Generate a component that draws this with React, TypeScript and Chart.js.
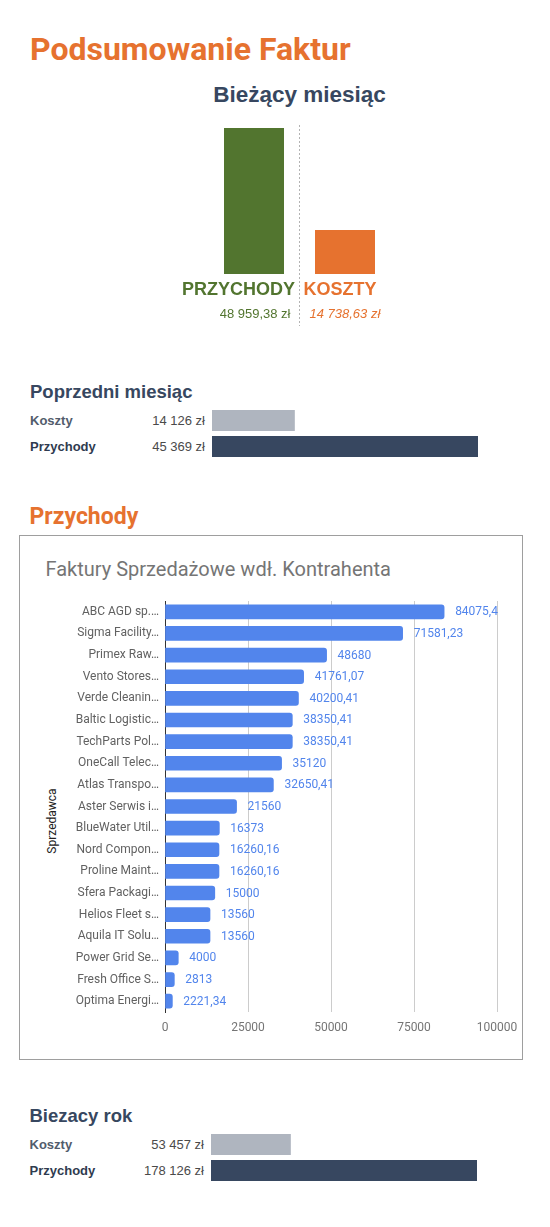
import React, { useEffect, useRef } from 'react';
import { Chart, registerables } from 'chart.js';

Chart.register(...registerables);

// ---------- data ----------
const currentLabels = ['PRZYCHODY', 'KOSZTY'];
const currentValues = [48959.38, 14738.63];

const prevLabels = ['Koszty', 'Przychody'];
const prevValues = [14126, 45369];

const yearLabels = ['Koszty', 'Przychody'];
const yearValues = [53457, 178126];

const vendorLabels = [
  'ABC AGD sp.…',
  'Sigma Facility…',
  'Primex Raw…',
  'Vento Stores…',
  'Verde Cleanin…',
  'Baltic Logistic…',
  'TechParts Pol…',
  'OneCall Telec…',
  'Atlas Transpo…',
  'Aster Serwis i…',
  'BlueWater Util…',
  'Nord Compon…',
  'Proline Maint…',
  'Sfera Packagi…',
  'Helios Fleet s…',
  'Aquila IT Solu…',
  'Power Grid Se…',
  'Fresh Office S…',
  'Optima Energi…',
];
const vendorValues = [
  84075.4, 71581.23, 48680, 41761.07, 40200.41, 38350.41, 38350.41, 35120, 32650.41, 21560,
  16373, 16260.16, 16260.16, 15000, 13560, 13560, 4000, 2813, 2221.34,
];
const vendorTicks = [0, 25000, 50000, 75000, 100000];

// ---------- styles ----------
const ORANGE = '#E6722F';
const GREEN = '#52752F';
const NAVY = '#374760';
const GREY_BAR = '#AFB5BF';
const BLUE = '#5285EC';
const ARIAL = '"Liberation Sans", Arial, Helvetica, sans-serif';
const ROBOTO = 'Roboto, "Noto Sans", sans-serif';

function plFormat(v: number, decimals: number): string {
  const fixed = v.toFixed(decimals);
  const [intPart, dec] = fixed.split('.');
  const grouped = intPart.replace(/\B(?=(\d{3})+(?!\d))/g, ' ');
  return (dec ? grouped + ',' + dec : grouped) + ' zł';
}

function rawFormat(v: number): string {
  return String(v).replace('.', ',');
}

type TProps = {
  x: number;
  cy: number;
  size: number;
  color: string;
  family?: string;
  weight?: number | string;
  italic?: boolean;
  align?: 'left' | 'right' | 'center';
  children: React.ReactNode;
};

function T({ x, cy, size, color, family = ARIAL, weight = 400, italic, align = 'left', children }: TProps) {
  const lh = Math.round(size * 1.3);
  const w = 400;
  let left = x;
  if (align === 'right') left = x - w;
  if (align === 'center') left = x - w / 2;
  return (
    <div
      style={{
        position: 'absolute',
        left,
        top: cy - lh / 2,
        width: w,
        height: lh,
        lineHeight: lh + 'px',
        fontSize: size,
        fontFamily: family,
        fontWeight: weight as any,
        fontStyle: italic ? 'italic' : 'normal',
        color,
        textAlign: align,
        whiteSpace: 'nowrap',
      }}
    >
      {children}
    </div>
  );
}

function ChartCanvas({ left, top, width, height, config }: any) {
  const ref = useRef<HTMLCanvasElement | null>(null);
  useEffect(() => {
    if (!ref.current) return;
    const chart = new Chart(ref.current, config());
    return () => chart.destroy();
  }, []);
  return (
    <canvas
      ref={ref}
      width={width}
      height={height}
      style={{ position: 'absolute', left, top, width, height, display: 'block' }}
    />
  );
}

// ---------- chart configs ----------
const dividerPlugin = {
  id: 'divider',
  afterDatasetsDraw(chart: any) {
    const xs = chart.scales.x;
    const px = Math.floor((xs.getPixelForValue(0) + xs.getPixelForValue(1)) / 2) + 0.5;
    const ctx = chart.ctx;
    ctx.save();
    ctx.strokeStyle = '#b3b3b3';
    ctx.lineWidth = 1;
    ctx.setLineDash([2, 2]);
    ctx.beginPath();
    ctx.moveTo(px, 5);
    ctx.lineTo(px, 206);
    ctx.stroke();
    ctx.restore();
  },
};

const currentConfig = () => ({
  type: 'bar',
  data: {
    labels: currentLabels,
    datasets: [
      {
        data: currentValues,
        backgroundColor: [GREEN, ORANGE],
        barPercentage: 60 / 91,
        categoryPercentage: 1,
      },
    ],
  },
  options: {
    responsive: false,
    animation: false,
    events: [],
    layout: { padding: { top: 8, bottom: 56, left: 0.5, right: 0.5 } },
    plugins: { legend: { display: false }, tooltip: { enabled: false } },
    scales: {
      x: { display: false },
      y: { display: false, min: 0, max: Math.max(...currentValues) },
    },
  },
  plugins: [dividerPlugin],
});

const smallConfig = (labels: string[], values: number[]) => () => ({
  type: 'bar',
  data: {
    labels,
    datasets: [
      {
        data: values,
        backgroundColor: [GREY_BAR, NAVY],
        barPercentage: 21 / 26,
        categoryPercentage: 1,
      },
    ],
  },
  options: {
    indexAxis: 'y',
    responsive: false,
    animation: false,
    events: [],
    layout: { padding: { top: 0.5, bottom: 0.5, left: 0, right: 0 } },
    plugins: { legend: { display: false }, tooltip: { enabled: false } },
    scales: {
      x: { display: false, min: 0, max: Math.max(...values) },
      y: { display: false },
    },
  },
});

const valueLabelPlugin = {
  id: 'valueLabels',
  afterDatasetsDraw(chart: any) {
    const meta = chart.getDatasetMeta(0);
    const ctx = chart.ctx;
    ctx.save();
    ctx.font = '12px Roboto';
    ctx.fillStyle = BLUE;
    ctx.textAlign = 'left';
    ctx.textBaseline = 'middle';
    meta.data.forEach((el: any, i: number) => {
      ctx.fillText(rawFormat(vendorValues[i]), el.x + 11, el.y + 0.5);
    });
    ctx.restore();
  },
};

const vendorConfig = () => ({
  type: 'bar',
  data: {
    labels: vendorLabels,
    datasets: [
      {
        data: vendorValues,
        backgroundColor: BLUE,
        barThickness: 14,
        borderRadius: 3,
        borderSkipped: 'start',
      },
    ],
  },
  options: {
    indexAxis: 'y',
    responsive: false,
    animation: false,
    events: [],
    layout: { padding: { top: 11, right: 25, bottom: 0, left: 0 } },
    plugins: { legend: { display: false }, tooltip: { enabled: false } },
    scales: {
      x: {
        min: 0,
        max: 100000,
        afterBuildTicks: (s: any) => {
          s.ticks = vendorTicks.map((v) => ({ value: v }));
        },
        afterFit: (s: any) => {
          s.height = 38;
          s.paddingLeft = 0;
          s.paddingRight = 0;
        },
        ticks: {
          font: { family: 'Roboto', size: 12 },
          color: '#757575',
          padding: 9,
          maxRotation: 0,
          autoSkip: false,
          callback: (v: any) => String(v),
        },
        grid: {
          color: (ctx: any) => (ctx.tick && ctx.tick.value === 0 ? 'rgba(0,0,0,0)' : '#cccccc'),
          drawTicks: false,
        },
        border: { display: false },
      },
      y: {
        afterFit: (s: any) => {
          s.width = 145;
          s.paddingTop = 0;
          s.paddingBottom = 0;
        },
        ticks: {
          font: { family: 'Roboto', size: 12 },
          color: '#616161',
          padding: 6,
          autoSkip: false,
        },
        grid: { display: false, drawTicks: false },
        border: { display: true, color: '#333333', width: 1 },
      },
    },
  },
  plugins: [valueLabelPlugin],
});

export default function App() {
  return (
    <div
      style={{
        position: 'absolute',
        left: 0,
        top: 0,
        width: 550,
        height: 1227,
        background: '#ffffff',
        overflow: 'hidden',
      }}
    >
      {/* Page title */}
      <T x={30} cy={48.5} size={32} color={ORANGE} family={ROBOTO} weight={700}>
        Podsumowanie Faktur
      </T>

      {/* Current month */}
      <T x={299.5} cy={94} size={22.5} color={NAVY} weight={700} align="center">
        Bieżący miesiąc
      </T>
      <ChartCanvas left={208} top={120} width={183} height={210} config={currentConfig} />
      <T x={295} cy={289.5} size={18} color={GREEN} weight={700} align="right">
        {currentLabels[0]}
      </T>
      <T x={303.5} cy={289.5} size={18} color={ORANGE} weight={700}>
        {currentLabels[1]}
      </T>
      <T x={290.5} cy={313.7} size={13} color={GREEN} align="right">
        {plFormat(currentValues[0], 2)}
      </T>
      <T x={309.5} cy={313.7} size={13} color={ORANGE} italic>
        {plFormat(currentValues[1], 2)}
      </T>

      {/* Previous month */}
      <T x={30} cy={391.7} size={18.5} color={NAVY} weight={700}>
        Poprzedni miesiąc
      </T>
      <T x={30} cy={420.5} size={13} color="#525c6c" weight={700}>
        {prevLabels[0]}
      </T>
      <T x={30} cy={446.5} size={13} color="#2f3b4f" weight={700}>
        {prevLabels[1]}
      </T>
      <T x={205} cy={420.5} size={13} color="#4a4a4a" align="right">
        {plFormat(prevValues[0], 0)}
      </T>
      <T x={205} cy={446.5} size={13} color="#4a4a4a" align="right">
        {plFormat(prevValues[1], 0)}
      </T>
      <ChartCanvas left={212} top={407} width={266} height={53} config={smallConfig(prevLabels, prevValues)} />

      {/* Revenue section */}
      <T x={29.5} cy={517} size={23} color={ORANGE} family={ROBOTO} weight={700}>
        Przychody
      </T>
      <div
        style={{
          position: 'absolute',
          left: 19,
          top: 535,
          width: 504,
          height: 525,
          boxSizing: 'border-box',
          border: '1px solid #9e9e9e',
        }}
      />
      <T x={45.5} cy={568.8} size={20} color="#757575" family={ROBOTO}>
        Faktury Sprzedażowe wdł. Kontrahenta
      </T>
      <div
        style={{
          position: 'absolute',
          left: 52,
          top: 821,
          transform: 'translate(-50%, -50%) rotate(-90deg)',
          fontFamily: ROBOTO,
          fontSize: 12,
          color: '#222222',
          whiteSpace: 'nowrap',
          lineHeight: '14px',
        }}
      >
        Sprzedawca
      </div>
      <ChartCanvas left={20} top={590} width={502} height={460} config={vendorConfig} />

      {/* Current year */}
      <T x={29.5} cy={1115.8} size={18.5} color={NAVY} weight={700}>
        Biezacy rok
      </T>
      <T x={29.5} cy={1144.5} size={13} color="#525c6c" weight={700}>
        {yearLabels[0]}
      </T>
      <T x={29.5} cy={1170.5} size={13} color="#2f3b4f" weight={700}>
        {yearLabels[1]}
      </T>
      <T x={204} cy={1144.5} size={13} color="#4a4a4a" align="right">
        {plFormat(yearValues[0], 0)}
      </T>
      <T x={204} cy={1170.5} size={13} color="#4a4a4a" align="right">
        {plFormat(yearValues[1], 0)}
      </T>
      <ChartCanvas left={211} top={1131} width={266} height={53} config={smallConfig(yearLabels, yearValues)} />
    </div>
  );
}
